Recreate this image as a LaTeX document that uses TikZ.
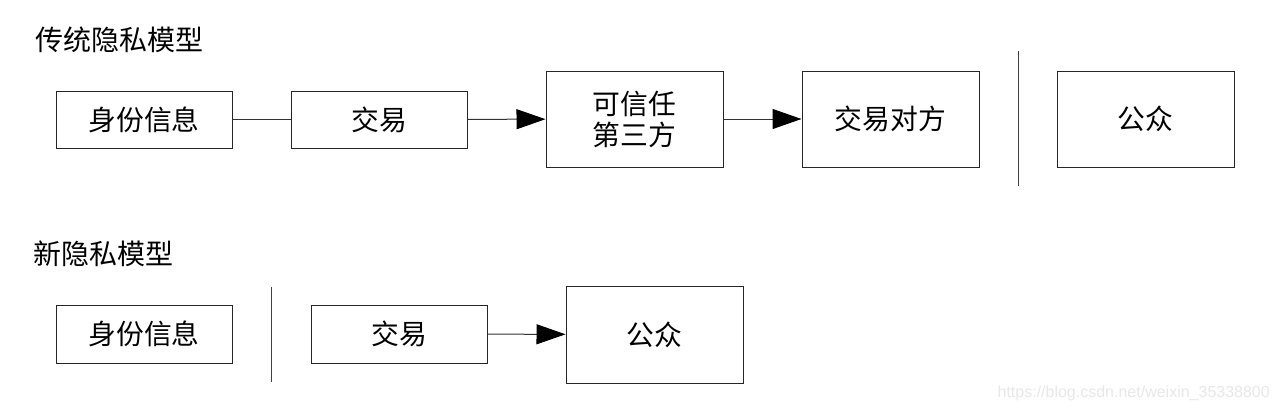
\documentclass[tikz,border=0pt]{standalone}
\usepackage{fontspec}
\newfontfamily\cjk{Noto Sans CJK SC}
\setmainfont{Liberation Sans}
\usetikzlibrary{arrows.meta}
\begin{document}
\begin{tikzpicture}[x=1pt,y=-1pt,
  box/.style={draw=black!85,line width=1pt,inner sep=0pt,align=center,font=\cjk\fontsize{27.8}{31}\selectfont},
  title/.style={inner sep=0pt,anchor=west,font=\cjk\fontsize{28}{31}\selectfont},
  conn/.style={draw=black!80,line width=1pt},
  arr/.style={conn,-{Triangle[length=29pt,width=20pt,color=black]}},
  sep/.style={draw=black!75,line width=1pt}]
\useasboundingbox (0,0) rectangle (1281,412);
\fill[white] (0,0) rectangle (1281,412);
% row 1
\node[title] (t1) at (35,40) {传统隐私模型};
\node[box,minimum width=176pt,minimum height=57pt] (a1) at (144,119.5) {身份信息};
\node[box,minimum width=176pt,minimum height=57pt] (b1) at (379,119.5) {交易};
\node[box,minimum width=177pt,minimum height=96pt] (c1) at (634.5,119) {可信任\\第三方};
\node[box,minimum width=177pt,minimum height=96pt] (d1) at (890.5,119) {交易对方};
\node[box,minimum width=177pt,minimum height=96pt] (e1) at (1145.5,119) {公众};
\coordinate (s1a) at (1018,51);
\coordinate (s1b) at (1018,186);
\draw[conn] (a1) -- (b1);
\draw[arr] (b1) -- (c1);
\draw[arr] (c1) -- (d1);
\draw[sep] (s1a) -- (s1b);
% row 2
\node[title] (t2) at (33,254) {新隐私模型};
\node[box,minimum width=176pt,minimum height=58pt] (a2) at (144,334) {身份信息};
\node[box,minimum width=176pt,minimum height=58pt] (b2) at (399,334) {交易};
\node[box,minimum width=177pt,minimum height=97pt] (c2) at (654.5,334.5) {公众};
\coordinate (s2a) at (271,287);
\coordinate (s2b) at (271,382);
\draw[sep] (s2a) -- (s2b);
\draw[arr] (b2) -- (c2);
% watermark
\node[anchor=east,inner sep=0pt,text=black!9,font=\fontsize{16}{18}\selectfont] (wm) at (1270,393) {https://blog.csdn.net/weixin\_35338800};
\end{tikzpicture}
\end{document}
